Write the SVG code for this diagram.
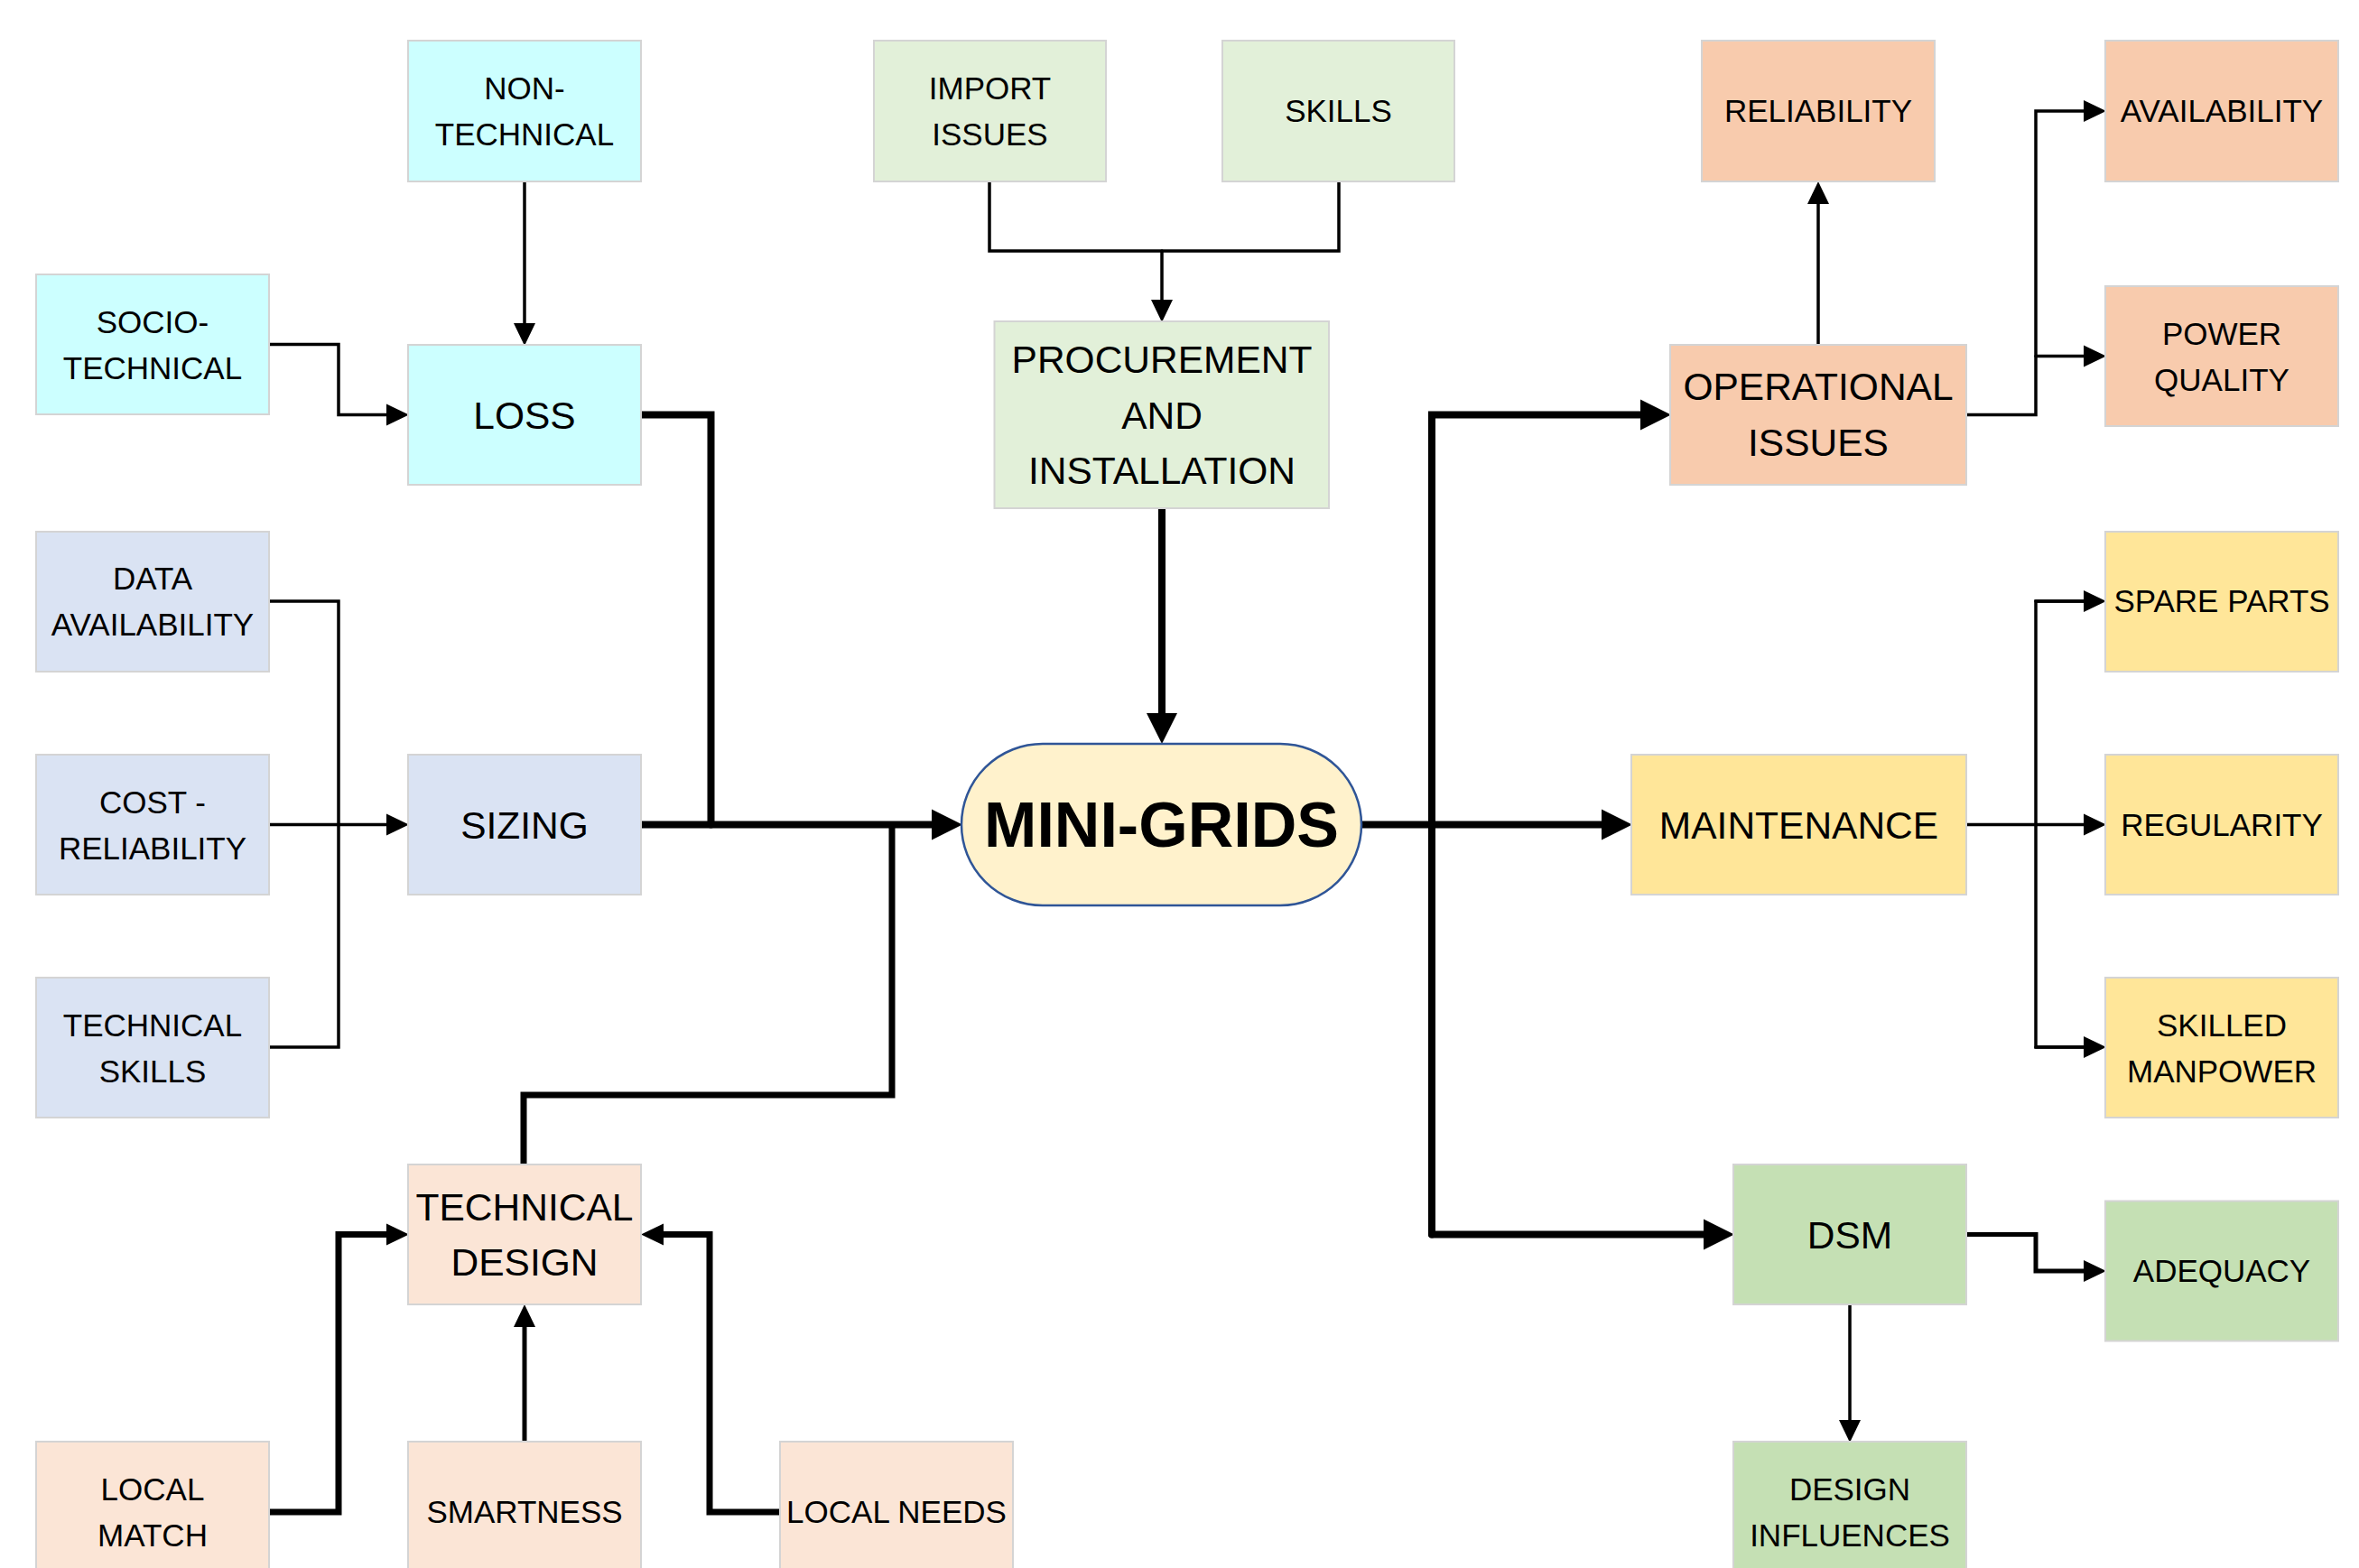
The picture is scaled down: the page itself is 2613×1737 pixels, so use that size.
<svg xmlns="http://www.w3.org/2000/svg" width="2613" height="1737" viewBox="0 0 2613 1737">
<style>
.box{stroke:#D4D4D4;stroke-width:2}
.cy{fill:#CCFFFF}.lv{fill:#DAE3F3}.lg{fill:#E2F0D9}.or{fill:#F8CBAD}.ye{fill:#FFE699}.pe{fill:#FBE5D6}.gr{fill:#C5E0B4}
text{font-family:"Liberation Sans",Arial,sans-serif;fill:#000;text-anchor:middle}
.s{font-size:35px}.b{font-size:42.5px}
.mg{font-size:70px;font-weight:bold}
.c{fill:none;stroke:#000;stroke-linejoin:miter;stroke-linecap:round}
.t1{stroke-width:3.5}.t2{stroke-width:5}.t3{stroke-width:7}.t4{stroke-width:8}
</style>
<defs>
<marker id="aL" markerUnits="userSpaceOnUse" markerWidth="36" markerHeight="36" refX="0" refY="17" orient="auto" overflow="visible"><path d="M0,0 L34,17 L0,34 z" fill="#000"/></marker>
<marker id="aS" markerUnits="userSpaceOnUse" markerWidth="27" markerHeight="26" refX="0" refY="12" orient="auto" overflow="visible"><path d="M0,0 L25,12 L0,24 z" fill="#000"/></marker>
</defs>
<rect width="2613" height="1737" fill="#fff"/>
<g id="connectors">
<path class="c t1" d="M581,201 V358" marker-end="url(#aS)"/>
<path class="c t1" d="M298,381.5 H375 V459.5 H428" marker-end="url(#aS)"/>
<path class="c t1" d="M298,666 H375 V1160 H298"/>
<path class="c t1" d="M298,913.5 H428" marker-end="url(#aS)"/>
<path class="c t1" d="M1096,201 V278 H1483 V201"/>
<path class="c t1" d="M1287,278 V332" marker-end="url(#aS)"/>
<path class="c t1" d="M2014,382 V226" marker-end="url(#aS)"/>
<path class="c t1" d="M2178,459.5 H2255 V123 H2308" marker-end="url(#aS)"/>
<path class="c t1" d="M2255,394.5 H2308" marker-end="url(#aS)"/>
<path class="c t1" d="M2178,913.5 H2308" marker-end="url(#aS)"/>
<path class="c t1" d="M2308,666 H2255 V1160 H2308"/>
<path class="c t1" d="M2255,666 H2308" marker-end="url(#aS)"/>
<path class="c t1" d="M2255,1160 H2308" marker-end="url(#aS)"/>
<path class="c t1" d="M2049,1445 V1573" marker-end="url(#aS)"/>
<path class="c t2" d="M2178,1367.5 H2255 V1408 H2308" marker-end="url(#aS)"/>
<path class="c t3" d="M297,1675 H375 V1367.5 H428" marker-end="url(#aS)"/>
<path class="c t2" d="M581,1597 V1470" marker-end="url(#aS)"/>
<path class="c t3" d="M864,1675 H786 V1367.5 H735" marker-end="url(#aS)"/>
<path class="c t4" d="M1287,563 V790" marker-end="url(#aL)"/>
<path class="c t4" d="M710,459.5 H787.5 V913.5"/>
<path class="c t4" d="M710,913.5 H1032" marker-end="url(#aL)"/>
<path class="c t3" d="M580,1290 V1213 H988 V913.5"/>
<path class="c t4" d="M1508,913.5 H1774" marker-end="url(#aL)"/>
<path class="c t4" d="M1586,1367.5 V459.5 H1817" marker-end="url(#aL)"/>
<path class="c t4" d="M1586,1367.5 H1887" marker-end="url(#aL)"/>
</g>
<g id="non-technical"><rect class="box cy" x="452" y="45" width="258" height="156"/><text class="s" x="581" y="110">NON-</text><text class="s" x="581" y="161">TECHNICAL</text></g>
<g id="socio-technical"><rect class="box cy" x="40" y="304" width="258" height="155"/><text class="s" x="169" y="369">SOCIO-</text><text class="s" x="169" y="420">TECHNICAL</text></g>
<g id="loss"><rect class="box cy" x="452" y="382" width="258" height="155"/><text class="b" x="581" y="474.5">LOSS</text></g>
<g id="data-availability"><rect class="box lv" x="40" y="589" width="258" height="155"/><text class="s" x="169" y="653">DATA</text><text class="s" x="169" y="704">AVAILABILITY</text></g>
<g id="cost-reliability"><rect class="box lv" x="40" y="836" width="258" height="155"/><text class="s" x="169" y="901">COST -</text><text class="s" x="169" y="952">RELIABILITY</text></g>
<g id="technical-skills"><rect class="box lv" x="40" y="1083" width="258" height="155"/><text class="s" x="169" y="1148">TECHNICAL</text><text class="s" x="169" y="1199">SKILLS</text></g>
<g id="sizing"><rect class="box lv" x="452" y="836" width="258" height="155"/><text class="b" x="581" y="928.5">SIZING</text></g>
<g id="technical-design"><rect class="box pe" x="452" y="1290" width="258" height="155"/><text class="b" x="581" y="1352">TECHNICAL</text><text class="b" x="581" y="1413">DESIGN</text></g>
<g id="local-match"><rect class="box pe" x="40" y="1597" width="258" height="155"/><text class="s" x="169" y="1662">LOCAL</text><text class="s" x="169" y="1713">MATCH</text></g>
<g id="smartness"><rect class="box pe" x="452" y="1597" width="258" height="155"/><text class="s" x="581" y="1687">SMARTNESS</text></g>
<g id="local-needs"><rect class="box pe" x="864" y="1597" width="258" height="155"/><text class="s" x="993" y="1687">LOCAL NEEDS</text></g>
<g id="import-issues"><rect class="box lg" x="968" y="45" width="257" height="156"/><text class="s" x="1096.5" y="110">IMPORT</text><text class="s" x="1096.5" y="161">ISSUES</text></g>
<g id="skills"><rect class="box lg" x="1354" y="45" width="257" height="156"/><text class="s" x="1482.5" y="135">SKILLS</text></g>
<g id="procurement"><rect class="box lg" x="1101.5" y="356" width="370.5" height="207"/><text class="b" x="1287" y="413">PROCUREMENT</text><text class="b" x="1287" y="474.5">AND</text><text class="b" x="1287" y="536">INSTALLATION</text></g>
<g id="mini-grids"><rect x="1065" y="824" width="443" height="179" rx="90" ry="89.5" fill="#FFF2CC" stroke="#2F5597" stroke-width="2.5"/><text class="mg" x="1286.5" y="938">MINI-GRIDS</text></g>
<g id="reliability"><rect class="box or" x="1885" y="45" width="258" height="156"/><text class="s" x="2014" y="135">RELIABILITY</text></g>
<g id="availability"><rect class="box or" x="2332" y="45" width="258" height="156"/><text class="s" x="2461" y="135">AVAILABILITY</text></g>
<g id="power-quality"><rect class="box or" x="2332" y="317" width="258" height="155"/><text class="s" x="2461" y="382">POWER</text><text class="s" x="2461" y="433">QUALITY</text></g>
<g id="operational-issues"><rect class="box or" x="1850" y="382" width="328" height="155"/><text class="b" x="2014" y="443">OPERATIONAL</text><text class="b" x="2014" y="504.5">ISSUES</text></g>
<g id="spare-parts"><rect class="box ye" x="2332" y="589" width="258" height="155"/><text class="s" x="2461" y="678">SPARE PARTS</text></g>
<g id="regularity"><rect class="box ye" x="2332" y="836" width="258" height="155"/><text class="s" x="2461" y="925.5">REGULARITY</text></g>
<g id="skilled-manpower"><rect class="box ye" x="2332" y="1083" width="258" height="155"/><text class="s" x="2461" y="1148">SKILLED</text><text class="s" x="2461" y="1199">MANPOWER</text></g>
<g id="maintenance"><rect class="box ye" x="1807" y="836" width="371" height="155"/><text class="b" x="1992.5" y="928.5">MAINTENANCE</text></g>
<g id="dsm"><rect class="box gr" x="1920" y="1290" width="258" height="155"/><text class="b" x="2049" y="1382.5">DSM</text></g>
<g id="adequacy"><rect class="box gr" x="2332" y="1330.5" width="258" height="155"/><text class="s" x="2461" y="1420">ADEQUACY</text></g>
<g id="design-influences"><rect class="box gr" x="1920" y="1597" width="258" height="155"/><text class="s" x="2049" y="1662">DESIGN</text><text class="s" x="2049" y="1713">INFLUENCES</text></g>
</svg>
